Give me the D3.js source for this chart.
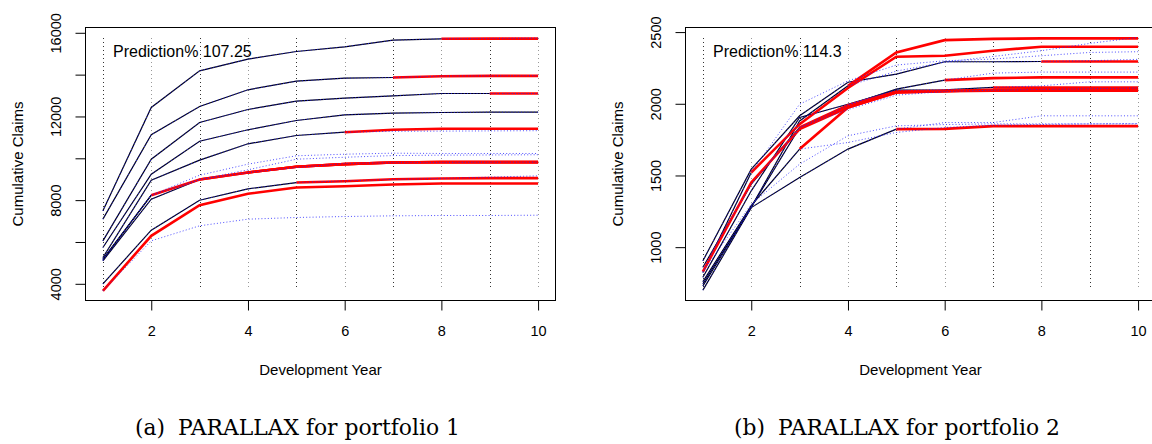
<!DOCTYPE html>
<html><head><meta charset="utf-8">
<script src="https://cdn.jsdelivr.net/npm/d3@7"></script>
<style>
body{margin:0;background:#fff}
svg{display:block}
</style>
</head><body>
<svg id="chart" width="1152" height="444"></svg>
<script>
// ---------- data ----------
const years = [1, 2, 3, 4, 5, 6, 7, 8, 9, 10];
const xTickValues = [2, 4, 6, 8, 10];

// Portfolio 1: observed (black) for years 1..k, predicted (red) years k..10, actual (blue dotted) years k..10
const p1Observed = [
  [5737, 9240, 10818, 11363, 11807, 12080, 12158, 12190, 12205, 12205],
  [6055, 9957, 11712, 12333, 12730, 12873, 12988, 13098, 13098],
  [7490, 12430, 14183, 14740, 15106, 15331, 15647, 15713],
  [7090, 11124, 12478, 13275, 13686, 13830, 13863],
  [5257, 8953, 9910, 10693, 11090, 11248],
  [4000, 6563, 7997, 8542, 8840],
  [5100, 8045, 8987, 9321],
  [5180, 8236, 8987],
  [5150, 8236],
  [3667]
];
const p1Predicted = [
  [12205],
  [13098, 13098],
  [15713, 15720, 15720],
  [13863, 13925, 13940, 13940],
  [11248, 11363, 11410, 11410, 11410],
  [8840, 8905, 9000, 9034, 9050, 9050],
  [9321, 9594, 9720, 9800, 9815, 9815, 9815],
  [8987, 9321, 9594, 9720, 9800, 9815, 9815, 9815],
  [8236, 8987, 9321, 9594, 9720, 9800, 9815, 9815, 9815],
  [3667, 6295, 7758, 8303, 8604, 8666, 8747, 8795, 8795, 8795]
];
const p1Actual = [
  [12205],
  [13098, 13098],
  [15713, 15730, 15745],
  [13863, 13930, 13945, 13950],
  [11248, 11290, 11300, 11310, 11320],
  [8840, 8920, 8990, 9040, 9100, 9160],
  [9321, 9560, 9752, 9790, 9800, 9810, 9815],
  [8987, 9450, 9957, 10050, 10130, 10150, 10160, 10170],
  [8236, 9192, 9720, 10120, 10196, 10245, 10230, 10230, 10230],
  [3667, 6055, 6773, 7090, 7170, 7217, 7250, 7266, 7266, 7280]
];
const p1YTicks = [4000, 6000, 8000, 10000, 12000, 14000, 16000];
const p1YLabels = [4000, 8000, 12000, 16000];
const p1Note = "Prediction% 107.25";
const p1Caption = ["(a)", "PARALLAX for portfolio 1"];

// Portfolio 2
const p2Observed = [
  [905, 1544, 1916, 2150, 2207, 2293, 2293, 2295],
  [790, 1393, 1904, 1997, 2095, 2098, 2114],
  [730, 1279, 1835, 1990, 2102, 2165],
  [700, 1276, 1486, 1684, 1823],
  [745, 1279, 1880, 2125],
  [760, 1290, 1684],
  [860, 1440, 1835],
  [823, 1521],
  [830]
];
const p2Predicted = [
  [2295, 2295, 2295],
  [2114, 2114, 2114, 2114],
  [2165, 2179, 2184, 2184, 2184],
  [1823, 1825, 1844, 1844, 1844, 1844],
  [2125, 2358, 2444, 2453, 2456, 2456, 2456],
  [1684, 1974, 2079, 2088, 2091, 2091, 2091, 2091],
  [1835, 1990, 2085, 2090, 2095, 2098, 2100, 2100],
  [1521, 1858, 2110, 2328, 2335, 2370, 2398, 2398, 2398],
  [830, 1451, 1823, 1974, 2079, 2088, 2098, 2102, 2102, 2102]
];
const p2Actual = [
  [2295, 2300, 2310],
  [2114, 2125, 2153, 2153],
  [2165, 2214, 2221, 2221, 2221],
  [1823, 1869, 1869, 1916, 1916, 1916],
  [2125, 2228, 2290, 2330, 2370, 2421, 2463],
  [1684, 1730, 1800, 1835, 1850, 1856, 1860, 1862],
  [1835, 1960, 2060, 2085, 2095, 2100, 2105, 2110],
  [1521, 1997, 2160, 2270, 2300, 2312, 2335, 2358, 2363],
  [830, 1300, 1579, 1777, 1846, 1855, 1860, 1860, 1860, 1860]
];
const p2YTicks = [1000, 1500, 2000, 2500];
const p2YLabels = [1000, 1500, 2000, 2500];
const p2Note = "Prediction% 114.3";
const p2Caption = ["(b)", "PARALLAX for portfolio 2"];

// ---------- drawing ----------
const svg = d3.select("#chart");
const sans = '"Liberation Sans",Arial,Helvetica,sans-serif';
const serif = '"DejaVu Serif","Liberation Serif",serif';

function drawPanel(offsetX, cfg) {
  const box = {l: 85.5, r: 555.5, t: 27.5, b: 300.5};
  const g = svg.append("g").attr("transform", `translate(${offsetX},0)`);
  const x = d3.scaleLinear().domain([0.64, 10.36]).range([box.l, box.r]);
  const y = d3.scaleLinear().domain(cfg.yDomain).range([box.b, box.t]);

  // vertical dotted guides
  g.selectAll("line.vg").data(years).join("line")
    .attr("x1", d => Math.round(x(d)) + 0.5).attr("x2", d => Math.round(x(d)) + 0.5)
    .attr("y1", 38).attr("y2", 290)
    .attr("stroke", d => d % 2 ? "#333" : "#999")
    .attr("stroke-width", 1).attr("stroke-dasharray", "1,3");

  const line = d3.line().x(d => x(d[0])).y(d => y(d[1]));
  const obsPts = cfg.obs.map(r => r.map((v, i) => [years[i], v]));
  const predPts = cfg.pred.map((r, s) => r.map((v, i) => [years[cfg.obs[s].length - 1 + i], v]));
  const actPts = cfg.act.map((r, s) => {
    const full = cfg.obs[s].concat(r.slice(1));
    return full.map((v, i) => [years[i], v]);
  });

  g.selectAll("path.obs").data(obsPts.filter(p => p.length > 1)).join("path")
    .attr("class", "obs").attr("d", line).attr("fill", "none")
    .attr("stroke", "#000015").attr("stroke-width", 1.2);
  g.selectAll("path.pred").data(predPts.filter(p => p.length > 1)).join("path")
    .attr("class", "pred").attr("d", line).attr("fill", "none")
    .attr("stroke", "#ff0000").attr("stroke-width", 2.6);
  g.selectAll("path.act").data(actPts).join("path")
    .attr("class", "act").attr("d", line).attr("fill", "none")
    .attr("stroke", "#2222ff").attr("stroke-opacity", 0.8)
    .attr("stroke-width", 1).attr("stroke-dasharray", "1,2.2");

  // box
  g.append("rect").attr("x", box.l).attr("y", box.t)
    .attr("width", box.r - box.l).attr("height", box.b - box.t)
    .attr("fill", "none").attr("stroke", "#000").attr("stroke-width", 1);

  // y axis
  const ya = g.append("g").attr("transform", `translate(${box.l},0)`)
    .call(d3.axisLeft(y).tickValues(cfg.yTicks).tickSize(10).tickSizeOuter(0)
      .tickFormat(d => cfg.yLabels.includes(d) ? String(d) : ""));
  ya.select(".domain").remove();
  ya.selectAll("line").attr("stroke", "#000");
  ya.selectAll("text").attr("transform", "rotate(-90)")
    .attr("x", 0).attr("y", -25).attr("dy", 0)
    .attr("text-anchor", "middle").attr("fill", "#000")
    .style("font-size", "14.5px").style("font-family", sans);

  // x axis
  const xa = g.append("g").attr("transform", `translate(0,${box.b})`)
    .call(d3.axisBottom(x).tickValues(xTickValues).tickSize(10).tickSizeOuter(0));
  xa.select(".domain").remove();
  xa.selectAll("line").attr("stroke", "#000");
  xa.selectAll("text").attr("y", 35).attr("dy", 0).attr("fill", "#000")
    .style("font-size", "14.5px").style("font-family", sans);

  // axis titles
  g.append("text").attr("transform", `translate(22.5,${(box.t + box.b) / 2}) rotate(-90)`)
    .attr("text-anchor", "middle").style("font-size", "15px").style("font-family", sans)
    .text("Cumulative Claims");
  g.append("text").attr("x", (box.l + box.r) / 2).attr("y", 375)
    .attr("text-anchor", "middle").style("font-size", "15px").style("font-family", sans)
    .text("Development Year");

  // note
  g.append("text").attr("x", 113).attr("y", 57)
    .style("font-size", "16px").style("font-family", sans).text(cfg.note);

  // caption
  const lab = g.append("text").attr("x", 165).attr("y", 435).attr("text-anchor", "end")
    .style("font-family", serif).style("font-size", "21px").text(cfg.caption[0]);
  const cap = g.append("text").attr("x", 178).attr("y", 435)
    .style("font-family", serif).style("font-size", "21px").text(cfg.caption[1]);
  const w = cap.node().getComputedTextLength();
  if (w > 0) {
    const fs = 21 * 282 / w;
    cap.style("font-size", fs + "px");
    lab.style("font-size", fs + "px");
  }
}

drawPanel(0, {obs: p1Observed, pred: p1Predicted, act: p1Actual,
  yDomain: [3202, 16253], yTicks: p1YTicks, yLabels: p1YLabels, note: p1Note, caption: p1Caption});
drawPanel(600, {obs: p2Observed, pred: p2Predicted, act: p2Actual,
  yDomain: [628, 2532], yTicks: p2YTicks, yLabels: p2YLabels, note: p2Note, caption: p2Caption});
</script>
</body></html>
